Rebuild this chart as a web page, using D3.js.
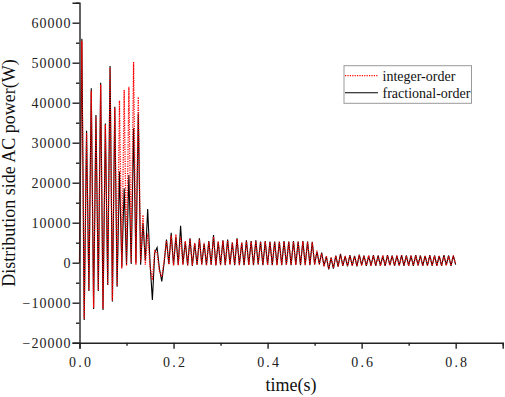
<!DOCTYPE html>
<html><head><meta charset="utf-8">
<script src="https://cdn.jsdelivr.net/npm/d3@7"></script>
<style>body{margin:0;background:#fff} svg{display:block}</style>
</head><body><svg id="c" width="505" height="397"></svg>
<script>
// time between successive extrema of the sampled power trace (s)
const sampleStep = 0.005;

// Integer-order controller: distribution side AC power (W), one value per sampleStep
const integerOrder = [
  0, 55500, -14000, 32500, -7000, 43000, -11300, 36500, -7000, 44500,
  -11500, 34500, -5500, 48800, -9500, 38800, -5800, 40500, -1500, 43200,
  -800, 44000, 0, 50200, -500, 41400, 300, 11900, -500, 7300,
  -1000, -4300, 3000, 2500, -2200, -3500, 500, 5500, -500, 6800,
  -700, 7100, -600, 6500, -500, 5400, -700, 5900, -600, 5000,
  -600, 5800, -500, 5000, -700, 5300, -600, 6500, -600, 5300,
  -600, 5500, -500, 5600, -500, 5100, -500, 5900, -600, 5100,
  -500, 5500, -600, 5300, -500, 5500, -500, 5200, -500, 5300,
  -600, 5200, -500, 5200, -600, 5300, -500, 5300, -600, 5200,
  -500, 5300, -600, 5200, -500, 5300, -600, 5200, -500, 5100,
  -500, 3000, -500, 2300, -900, 1700, -1500, 1400, -1300, 1700,
  -900, 2000, -700, 1700, -800, 1800, -800, 1600, -800, 1900,
  -700, 1700, -700, 1800, -800, 1800, -700, 1700, -800, 1800,
  -700, 1800, -700, 1700, -700, 1800, -800, 1800, -700, 1700,
  -800, 1800, -700, 1800, -700, 1700, -700, 1800, -800, 1800,
  -700, 1700, -800, 1800, -700, 1800, -700, 1700, -700, 1800,
  -400
];

// Fractional-order controller
const fractionalOrder = [
  0, 56000, -14300, 33000, -7100, 43600, -11600, 36900, -7100, 45000,
  -11800, 34800, -5600, 49200, -9700, 39000, -6000, 22800, -1000, 18600,
  -500, 21900, -300, 33600, 0, 37300, -500, 10000, 500, 13400,
  0, -9300, 2500, 3800, -1500, -4700, 0, 5800, -300, 7500,
  -600, 6500, -500, 9200, -400, 5200, -600, 6100, -800, 4800,
  -500, 6100, -400, 4800, -600, 5400, -500, 6900, -700, 5200,
  -500, 5600, -600, 5800, -400, 5000, -600, 6100, -500, 5000,
  -600, 5600, -500, 5400, -600, 5600, -400, 5300, -600, 5400,
  -500, 5300, -600, 5300, -500, 5200, -600, 5400, -500, 5300,
  -600, 5400, -500, 5300, -600, 5400, -500, 5300, -600, 5200,
  -400, 2800, -300, 2500, -800, 1500, -1700, 1200, -1500, 1800,
  -1000, 2200, -800, 1600, -900, 1900, -700, 1700, -900, 2000,
  -600, 1800, -800, 1700, -700, 1900, -800, 1800, -700, 1700,
  -800, 1900, -600, 1800, -800, 1700, -700, 1900, -800, 1800,
  -700, 1700, -800, 1900, -600, 1800, -800, 1700, -700, 1900,
  -800, 1800, -700, 1700, -800, 1900, -600, 1800, -800, 1700,
  -500
];

const seriesNames = ["integer-order", "fractional-order"];
const xMajorTicks = [0, 0.2, 0.4, 0.6, 0.8];
const xMinorTicks = [0.1, 0.3, 0.5, 0.7, 0.9];
const xTickLabels = ["0.0", "0.2", "0.4", "0.6", "0.8"];
const yMajorTicks = [-20000, -10000, 0, 10000, 20000, 30000, 40000, 50000, 60000];
const yMinorTicks = [-15000, -5000, 5000, 15000, 25000, 35000, 45000, 55000, 65000];
const xTitle = "time(s)";
const yTitle = "Distribution side AC power(W)";

const FONT = "'Liberation Serif','Times New Roman',serif";
const svg = d3.select("#c");
const x = d3.scaleLinear().domain([0, 0.9]).range([79.5, 502.7]);
const y = d3.scaleLinear().domain([-20000, 65000]).range([342.7, 2.7]);

const line = d3.line().x((d, i) => x(i * sampleStep)).y(d => y(d));

// series: black solid first, red dotted on top
svg.append("path").datum(fractionalOrder).attr("d", line)
  .attr("fill", "none").attr("stroke", "#000").attr("stroke-width", 1.1);
svg.append("path").datum(integerOrder).attr("d", line)
  .attr("fill", "none").attr("stroke", "#ff0000").attr("stroke-width", 1.3)
  .attr("stroke-dasharray", "1.2,1.2");

// axes
const axisColor = "#222";
function styleAxis(g) {
  g.select(".domain").attr("stroke", axisColor).attr("stroke-width", 1.4);
  g.selectAll(".tick line").attr("stroke", axisColor).attr("stroke-width", 1.4);
  g.selectAll("text").attr("font-family", FONT).attr("font-size", 14).attr("fill", "#222");
}
const xAxis = svg.append("g").attr("transform", `translate(0,${y(-20000)})`)
  .call(d3.axisBottom(x).tickValues(xMajorTicks).tickSize(6).tickPadding(8)
    .tickFormat((d, i) => xTickLabels[i]));
styleAxis(xAxis);
xAxis.selectAll("text").attr("letter-spacing", 2.2).attr("dx", 1.1);
const xAxisMinor = svg.append("g").attr("transform", `translate(0,${y(-20000)})`)
  .call(d3.axisBottom(x).tickValues(xMinorTicks).tickSize(3).tickFormat(""));
styleAxis(xAxisMinor);
xAxisMinor.select(".domain").remove();

const yAxis = svg.append("g").attr("transform", `translate(${x(0)},0)`)
  .call(d3.axisLeft(y).tickValues(yMajorTicks).tickSize(7).tickPadding(1).tickFormat(d3.format("d")));
styleAxis(yAxis);
yAxis.selectAll("text").attr("letter-spacing", 1);
const yAxisMinor = svg.append("g").attr("transform", `translate(${x(0)},0)`)
  .call(d3.axisLeft(y).tickValues(yMinorTicks).tickSize(3.5).tickFormat(""));
styleAxis(yAxisMinor);
yAxisMinor.select(".domain").remove();

// titles
svg.append("text").attr("x", 291).attr("y", 391).attr("text-anchor", "middle")
  .attr("font-family", FONT).attr("font-size", 18).attr("fill", "#111").text(xTitle);
svg.append("text").attr("transform", "translate(15,173) rotate(-90)").attr("text-anchor", "middle")
  .attr("font-family", FONT).attr("font-size", 18).attr("fill", "#111").text(yTitle);

// legend
const lg = svg.append("g");
lg.append("rect").attr("x", 344).attr("y", 65.7).attr("width", 127.5).attr("height", 37.6)
  .attr("fill", "#fff").attr("stroke", "#999").attr("stroke-width", 1);
const legendStyles = [
  {stroke: "#ff0000", dash: "1.2,1.2", w: 1.3},
  {stroke: "#000", dash: null, w: 1.1}
];
seriesNames.forEach((name, i) => {
  const yy = 75.7 + i * 17;
  lg.append("line").attr("x1", 345).attr("x2", 378).attr("y1", yy).attr("y2", yy)
    .attr("stroke", legendStyles[i].stroke).attr("stroke-width", legendStyles[i].w)
    .attr("stroke-dasharray", legendStyles[i].dash);
  lg.append("text").attr("x", 382.5).attr("y", yy + 4.8)
    .attr("font-family", FONT).attr("font-size", 14).attr("fill", "#111").text(name);
});
</script>
</body></html>
